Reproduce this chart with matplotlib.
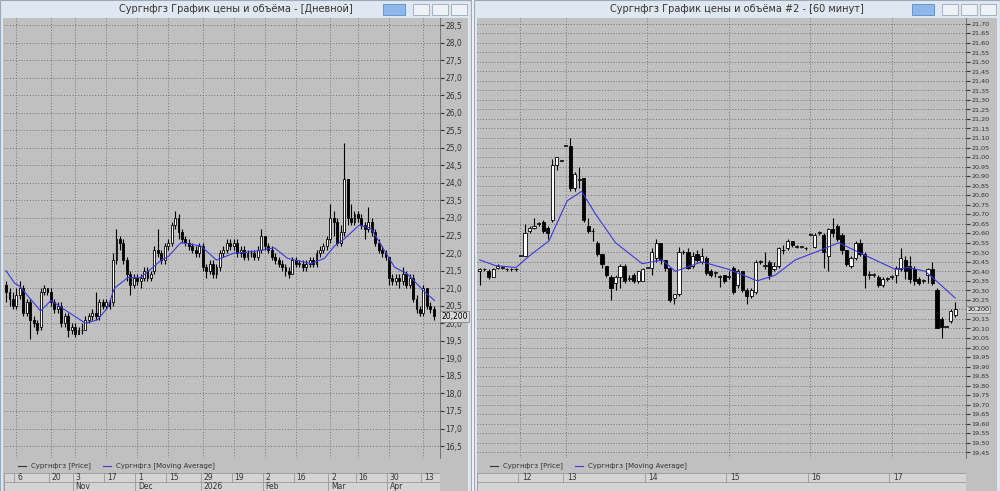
import matplotlib
matplotlib.use("Agg")
import matplotlib.pyplot as plt
from matplotlib.patches import Rectangle

# ---- daily chart data ----
d_open = [21.1,20.9,20.7,20.5,20.8, 21.0,20.3,20.6,20.1,20.0, 19.9,20.9,21.0,
          20.9,20.6,20.4,20.5,20.0,20.2,19.8,19.9,19.7, 19.8,19.8,20.1,20.2,20.3,20.2,20.6,20.5,20.6,
          20.6,21.8,22.4,22.3, 21.8,21.4,21.1,21.3, 21.2,21.3,21.5,21.3, 21.5,22.1,22.0,21.8,22.2,
          22.3,22.8,23.0, 22.6,22.4,22.3,22.2,22.1,22.0, 22.2,21.6,21.5,21.7,21.4, 21.6,22.0,22.1,22.3,22.2,
          22.3,22.0,22.1,21.9,22.0,22.0,21.9,22.1,22.5, 22.2,22.1,21.9,21.8,21.7,21.6,21.5,
          21.4,21.8,21.7,21.7,21.6,21.7,21.8, 21.7,22.0,22.1,22.2, 22.4,23.0,22.9, 22.3,22.6,
          24.1,23.0,22.9,23.1,23.0, 22.8,22.7,22.9,22.6,22.3, 22.1,22.0,21.9, 21.3,21.2,21.3,21.2,21.4,21.1,
          21.3,20.7,20.4,20.3, 21.0,20.5,20.4]
d_close = [20.9,20.7,20.5,20.8,21.0, 20.3,20.6,20.1,20.0,19.8, 20.9,21.0,20.9,
           20.6,20.4,20.5,20.0,20.2,19.8,19.9,19.7,19.8, 19.8,20.1,20.2,20.3,20.2,20.6,20.5,20.6,20.5,
           21.8,22.4,22.3,21.8, 21.4,21.1,21.3,21.2, 21.3,21.5,21.3,21.4, 22.1,22.0,21.8,22.2,22.3,
           22.8,23.0,22.6, 22.4,22.3,22.2,22.1,22.0,22.2, 21.6,21.5,21.7,21.4,21.6, 22.0,22.1,22.3,22.2,22.3,
           22.0,22.1,21.9,22.0,22.0,21.9,22.1,22.5,22.2, 22.1,21.9,21.8,21.7,21.6,21.5,21.4,
           21.8,21.7,21.7,21.6,21.7,21.8,21.7, 22.0,22.1,22.2,22.4, 23.0,22.9,22.3, 22.6,24.1,
           23.0,22.9,23.1,23.0,22.8, 22.7,22.9,22.6,22.3,22.1, 22.0,21.9,21.3, 21.2,21.3,21.2,21.4,21.1,21.3,
           20.7,20.4,20.3,21.0, 20.5,20.4,20.2]
d_high = [21.2,21.0,20.9,21.0,21.2, 21.1,20.7,20.7,20.2,20.1, 21.0,21.1,21.0,
          21.0,20.7,20.6,20.6,20.3,20.3,20.0,20.0,19.9, 20.0,20.2,20.3,20.4,20.9,20.7,20.7,20.7,20.7,
          22.0,22.7,22.5,22.4, 21.9,21.5,21.4,21.4, 21.4,21.6,21.6,21.5, 22.2,22.7,22.1,22.3,22.4,
          22.9,23.2,23.1, 22.7,22.5,22.4,22.3,22.2,22.3, 22.3,21.7,21.8,21.8,21.7, 22.1,22.2,22.4,22.4,22.4,
          22.4,22.2,22.2,22.1,22.1,22.1,22.2,22.7,22.5, 22.3,22.2,22.0,21.9,21.8,21.7,21.6,
          21.9,21.9,21.8,21.8,21.8,21.9,21.9, 22.1,22.2,22.3,22.5, 23.4,23.2,23.0, 22.8,25.15,
          24.1,23.4,23.2,23.2,23.1, 22.9,23.3,23.0,22.7,22.4, 22.2,22.1,21.9, 21.4,21.4,21.4,21.6,21.5,21.4,
          21.4,20.8,20.5,21.1, 21.0,20.6,20.5]
d_low = [20.6,20.5,20.4,20.4,20.7, 20.2,20.2,19.55,19.9,19.7, 19.8,20.8,20.8,
         20.5,20.3,20.3,19.9,19.9,19.6,19.7,19.6,19.7, 19.7,19.8,20.0,20.1,20.1,20.1,20.4,20.4,20.4,
         20.5,21.7,22.1,21.7, 21.2,20.8,21.0,21.1, 21.0,21.2,21.2,21.2, 21.4,21.9,21.7,21.7,22.1,
         22.2,22.7,22.4, 22.3,22.2,22.1,22.0,21.9,21.9, 21.5,21.3,21.4,21.3,21.3, 21.5,21.9,22.0,22.1,22.1,
         21.9,21.9,21.8,21.8,21.9,21.8,21.8,22.0,22.1, 22.0,21.8,21.7,21.6,21.5,21.35,21.3,
         21.4,21.6,21.6,21.5,21.5,21.6,21.6, 21.6,21.9,22.0,22.1, 22.3,22.5,22.2, 22.2,22.5,
         22.8,22.8,22.8,22.9,22.7, 22.4,22.6,22.5,22.2,22.0, 21.9,21.8,21.1, 21.1,21.1,21.0,21.1,21.0,21.0,
         20.6,20.3,20.2,20.2, 20.4,20.3,20.1]
d_ma_x = [0, 2.4, 4, 10, 13, 16, 23, 26.5, 29.5, 31.4, 35.3, 39, 45, 47, 50.7, 56.5, 61, 66, 72,
          77.8, 81.6, 88.4, 92.3, 95.2, 98, 102.4, 105.8, 107.7, 112.6, 116.4, 121.3, 124.2]
d_ma_y = [21.5, 21.15, 21.05, 20.35, 20.65, 20.45, 20.0, 20.1, 20.45, 21.0, 21.3, 21.3, 21.8, 21.9,
          22.3, 22.2, 21.8, 22.0, 22.05, 22.15, 21.85, 21.7, 21.85, 22.2, 22.4, 22.8, 22.7, 22.4,
          21.6, 21.4, 20.9, 20.65]
d_tick_pos = [3, 13, 20, 29, 38, 47, 57, 66, 75, 84, 94, 102, 111, 121]
d_tick_lab = ["6", "20", "3", "17", "1", "15", "29", "19", "2", "16", "2", "16", "30", "13"]
d_month_pos = [20, 38, 57, 75, 94, 111]
d_month_lab = ["Nov", "Dec", "2026", "Feb", "Mar", "Apr"]

# ---- hourly chart data (o, c, h, l per bar) ----
h_bars = [
    (20.40,20.41,20.42,20.33),(20.41,20.41,20.42,20.40),(20.40,20.37,20.41,20.36),(20.37,20.41,20.42,20.37),
    (20.42,20.43,20.44,20.41),(20.42,20.42,20.43,20.41),(20.41,20.41,20.42,20.40),(20.41,20.41,20.42,20.40),
    (20.41,20.41,20.42,20.40),(20.48,20.48,20.48,20.48),(20.48,20.60,20.65,20.48),(20.61,20.63,20.64,20.60),
    (20.63,20.64,20.68,20.62),(20.65,20.65,20.66,20.64),(20.66,20.61,20.67,20.60),(20.63,20.60,20.64,20.57),
    (20.67,20.96,20.99,20.66),(20.96,21.00,21.00,20.93),(20.98,20.98,20.98,20.98),(21.06,21.06,21.06,21.06),
    (21.06,20.84,21.10,20.82),(20.84,20.91,20.92,20.82),(20.88,20.88,20.95,20.84),(20.89,20.67,20.89,20.66),
    (20.64,20.61,20.68,20.60),(20.61,20.61,20.63,20.56),(20.55,20.49,20.56,20.48),(20.49,20.44,20.49,20.42),
    (20.43,20.38,20.43,20.37),(20.37,20.31,20.38,20.25),(20.34,20.37,20.38,20.30),(20.37,20.43,20.44,20.31),
    (20.43,20.35,20.44,20.34),(20.36,20.36,20.38,20.35),(20.38,20.35,20.39,20.34),(20.35,20.40,20.40,20.34),
    (20.35,20.41,20.42,20.35),(20.42,20.42,20.42,20.42),(20.42,20.50,20.52,20.38),(20.47,20.55,20.57,20.45),
    (20.55,20.46,20.55,20.44),(20.46,20.42,20.46,20.40),(20.42,20.25,20.42,20.24),(20.26,20.28,20.28,20.23),
    (20.28,20.50,20.53,20.27),(20.50,20.50,20.51,20.49),(20.50,20.42,20.52,20.41),(20.43,20.48,20.50,20.42),
    (20.49,20.46,20.51,20.45),(20.45,20.48,20.52,20.44),(20.47,20.39,20.48,20.38),(20.40,20.38,20.41,20.37),
    (20.39,20.39,20.40,20.37),(20.37,20.37,20.38,20.32),(20.38,20.35,20.38,20.34),(20.37,20.37,20.40,20.36),
    (20.42,20.29,20.43,20.28),(20.33,20.40,20.41,20.31),(20.40,20.30,20.40,20.29),(20.30,20.27,20.31,20.23),
    (20.27,20.30,20.31,20.26),(20.29,20.45,20.46,20.28),(20.45,20.45,20.46,20.44),(20.43,20.43,20.50,20.41),
    (20.45,20.38,20.46,20.36),(20.41,20.43,20.45,20.40),(20.43,20.52,20.53,20.42),(20.51,20.51,20.54,20.49),
    (20.52,20.56,20.57,20.51),(20.56,20.54,20.56,20.53),(20.53,20.53,20.54,20.52),(20.53,20.53,20.53,20.52),
    (20.52,20.52,20.53,20.51),(20.59,20.59,20.60,20.59),(20.53,20.59,20.60,20.52),(20.60,20.60,20.61,20.59),
    (20.59,20.50,20.60,20.42),(20.48,20.62,20.63,20.40),(20.62,20.60,20.68,20.58),(20.64,20.57,20.65,20.56),
    (20.59,20.51,20.60,20.49),(20.51,20.44,20.51,20.43),(20.43,20.47,20.48,20.42),(20.47,20.55,20.56,20.46),
    (20.55,20.49,20.57,20.48),(20.49,20.38,20.50,20.31),(20.38,20.38,20.40,20.36),(20.38,20.38,20.39,20.37),
    (20.37,20.33,20.38,20.32),(20.33,20.36,20.37,20.32),(20.36,20.36,20.37,20.35),(20.37,20.37,20.38,20.36),
    (20.38,20.42,20.43,20.34),(20.41,20.47,20.52,20.40),(20.46,20.40,20.48,20.36),(20.43,20.36,20.48,20.34),
    (20.41,20.35,20.43,20.33),(20.36,20.34,20.37,20.33),(20.35,20.35,20.36,20.34),(20.38,20.41,20.42,20.34),
    (20.41,20.34,20.45,20.33),(20.30,20.10,20.31,20.10),(20.15,20.11,20.16,20.05),(20.11,20.11,20.11,20.11),
    (20.14,20.19,20.20,20.13),(20.17,20.20,20.24,20.16),
]
h_ma_x = [0, 3.5, 8, 10.9, 15.3, 19.3, 22.5, 25.6, 30, 35.9, 40.3, 43.2, 49.1, 55, 61.3, 65.3,
          69.7, 74.1, 79.3, 83.7, 91.8, 94.7, 98.4, 101.3, 105]
h_ma_y = [20.46, 20.43, 20.42, 20.48, 20.56, 20.77, 20.82, 20.70, 20.55, 20.44, 20.46, 20.40, 20.45,
          20.41, 20.35, 20.38, 20.46, 20.50, 20.55, 20.50, 20.41, 20.42, 20.40, 20.34, 20.26]
h_tick_pos = [9, 19, 37, 55, 73, 91]
h_tick_lab = ["12", "13", "14", "15", "16", "17"]

W, H = 1000, 491
PLOT_BG = "#c0c0c0"
FRAME = "#dfe7f1"
MA_COL = "#3a3adc"


def px(x0, y0, w, h):
    # pixel box (top-left origin) -> figure fraction rect
    return [x0 / W, 1 - (y0 + h) / H, w / W, h / H]


def candles(ax, o, c, hi, lo, width):
    for i in range(len(o)):
        ax.vlines(i, lo[i], hi[i], color="black", lw=0.8, zorder=3)
        up = c[i] >= o[i]
        bottom = min(o[i], c[i])
        height = max(abs(c[i] - o[i]), 0.004)
        ax.bar(i, height, bottom=bottom, width=width, color="white" if up else "black",
               edgecolor="black", lw=0.6, zorder=4)


def window(fig, x0, w, title):
    fig.patches.append(Rectangle((x0 / W, 0), w / W, 1, transform=fig.transFigure,
                                 facecolor=FRAME, edgecolor="#9aa8b8", lw=0.8, zorder=-10))
    fig.patches.append(Rectangle((x0 / W + 0.003, 0), w / W - 0.006, 1 - 18 / H,
                                 transform=fig.transFigure, facecolor=PLOT_BG, edgecolor="none",
                                 zorder=-9))
    fig.text((x0 + w / 2) / W, 1 - 9 / H, title, ha="center", va="center", fontsize=7, color="#333333")
    # title bar buttons
    bx = x0 + w - 88
    fig.patches.append(Rectangle((bx / W, 1 - 15 / H), 22 / W, 11 / H, transform=fig.transFigure,
                                 facecolor="#8fb8ea", edgecolor="#5d8bc7", lw=0.6))
    for k in range(3):
        fig.patches.append(Rectangle(((bx + 30 + k * 19) / W, 1 - 15 / H), 16 / W, 11 / H,
                                     transform=fig.transFigure, facecolor="#eef2f7",
                                     edgecolor="#9aa8b8", lw=0.6))


def style_price_axis(ax, yticks, labels, size):
    ax.set_facecolor(PLOT_BG)
    ax.yaxis.tick_right()
    ax.set_yticks(yticks)
    ax.set_yticklabels(labels)
    ax.tick_params(axis="y", labelsize=size, length=3, colors="#333333", pad=1)
    ax.tick_params(axis="x", bottom=False, labelbottom=False)
    ax.grid(True, color="#6a6a6a", ls=(0, (1.2, 2.2)), lw=0.6)
    for s in ["left", "top", "bottom"]:
        ax.spines[s].set_visible(False)
    ax.spines["right"].set_color("#666666")
    ax.spines["right"].set_linewidth(0.6)


def legend_row(fig, x0, y0):
    fig.lines.append(plt.Line2D([(x0) / W, (x0 + 8) / W], [1 - y0 / H] * 2, color="#333333",
                                lw=0.8, transform=fig.transFigure))
    fig.text((x0 + 13) / W, 1 - y0 / H, "Сургнфгз [Price]", fontsize=5, va="center", color="#333333")
    fig.lines.append(plt.Line2D([(x0 + 85) / W, (x0 + 93) / W], [1 - y0 / H] * 2, color=MA_COL,
                                lw=0.8, transform=fig.transFigure))
    fig.text((x0 + 98) / W, 1 - y0 / H, "Сургнфгз [Moving Average]", fontsize=5, va="center",
             color="#333333")


def price_box(ax, y, text, size):
    ax.annotate(text, xy=(1.0, y), xycoords=("axes fraction", "data"), xytext=(1, 0),
                textcoords="offset points", fontsize=size, va="center", ha="left", zorder=10,
                bbox=dict(boxstyle="square,pad=0.15", fc="#d8d8d8", ec="#777777", lw=0.5))


fig = plt.figure(figsize=(10, 4.91), dpi=100)
fig.patch.set_facecolor("#f4f4f4")

# ---------- left window: daily ----------
window(fig, 0, 471, "Сургнфгз График цены и объёма - [Дневной]")
ax1 = fig.add_axes(px(4, 18, 436, 440))
candles(ax1, d_open, d_close, d_high, d_low, 0.55)
ax1.plot(d_ma_x, d_ma_y, color=MA_COL, lw=0.8, zorder=5)
ax1.set_xlim(-0.6, 125.8)
ax1.set_ylim(16.16, 28.7)
ax1.set_xticks(d_tick_pos)
d_yt = [16.5 + 0.5 * k for k in range(25)]
style_price_axis(ax1, d_yt, [f"{v:.1f}".replace(".", ",") for v in d_yt], 5.5)
price_box(ax1, 20.2, "20,200", 5.5)
legend_row(fig, 18, 466)

dax1 = fig.add_axes(px(4, 473, 436, 18))
dax1.set_xlim(-0.6, 125.8)
dax1.set_ylim(0, 2)
dax1.axis("off")
dax1.add_patch(Rectangle((-0.6, 0), 126.4, 2, facecolor="#d4d4d4", edgecolor="#999999", lw=0.6, zorder=0))
dax1.axhline(1, color="#999999", lw=0.6)
for p, t in zip(d_tick_pos, d_tick_lab):
    dax1.plot([p - 0.6, p - 0.6], [1, 2], color="#999999", lw=0.6)
    dax1.text(p + 0.2, 1.5, t, fontsize=5.5, va="center", color="#333333")
for p, t in zip(d_month_pos, d_month_lab):
    dax1.plot([p - 0.6, p - 0.6], [0, 1], color="#999999", lw=0.6)
    dax1.text(p + 0.2, 0.5, t, fontsize=5.5, va="center", color="#333333")

# ---------- right window: 60 min ----------
window(fig, 474, 526, "Сургнфгз График цены и объёма #2 - [60 минут]")
ax2 = fig.add_axes(px(477, 18, 489, 440))
h_o = [b[0] for b in h_bars]
h_c = [b[1] for b in h_bars]
h_h = [b[2] for b in h_bars]
h_l = [b[3] for b in h_bars]
candles(ax2, h_o, h_c, h_h, h_l, 0.7)
ax2.plot(h_ma_x, h_ma_y, color=MA_COL, lw=0.8, zorder=5)
ax2.set_xlim(-0.6, 107.4)
ax2.set_ylim(19.42, 21.73)
ax2.set_xticks(h_tick_pos)
h_yt = [round(19.45 + 0.05 * k, 2) for k in range(46)]
# the 20,20 label is covered by the last-price box
h_ylab = ["" if abs(v - 20.2) < 1e-6 else f"{v:.2f}".replace(".", ",") for v in h_yt]
style_price_axis(ax2, h_yt, h_ylab, 4.6)
price_box(ax2, 20.2, "20,200", 4.6)
legend_row(fig, 490, 466)

dax2 = fig.add_axes(px(477, 473, 489, 18))
dax2.set_xlim(-0.6, 107.4)
dax2.set_ylim(0, 2)
dax2.axis("off")
dax2.add_patch(Rectangle((-0.6, 0), 108, 2, facecolor="#d4d4d4", edgecolor="#999999", lw=0.6, zorder=0))
dax2.axhline(1, color="#999999", lw=0.6)
for p, t in zip(h_tick_pos, h_tick_lab):
    dax2.plot([p - 0.5, p - 0.5], [1, 2], color="#999999", lw=0.6)
    dax2.text(p + 0.3, 1.5, t, fontsize=5.5, va="center", color="#333333")

fig.savefig("out.png", dpi=100, facecolor=fig.get_facecolor())
